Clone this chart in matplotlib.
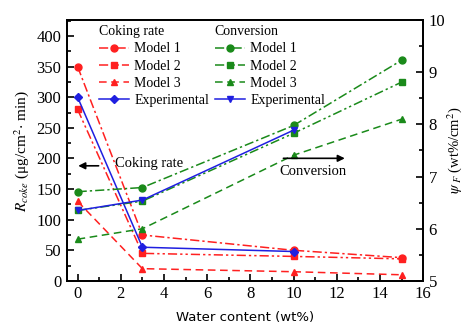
import matplotlib.pyplot as plt

plt.rcParams['font.family'] = 'Liberation Serif'
plt.rcParams['mathtext.fontset'] = 'stix'

water = [0, 3, 10, 15]
water_exp = [0, 3, 10]

# coking rate (left axis)
coke_m1 = [350, 75, 50, 38]
coke_m2 = [280, 45, 40, 36]
coke_m3 = [130, 20, 15, 10]
coke_exp = [300, 55, 48]

# conversion (right axis)
conv_m1 = [6.71, 6.79, 7.98, 9.23]
conv_m2 = [6.35, 6.53, 7.83, 8.81]
conv_m3 = [5.80, 6.00, 7.41, 8.10]
conv_exp = [6.35, 6.55, 7.89]

dashdot = (0, (6, 2, 1.5, 2))
dashdotdot = (0, (6, 2, 1.5, 2, 1.5, 2))
dashed = (0, (5, 3))

fig = plt.figure(figsize=(4.64, 3.24), dpi=100)
ax = fig.add_axes([0.144, 0.133, 0.768, 0.805])
ax2 = ax.twinx()

red = '#ff2020'
green = '#1a8a1a'
blue = '#1f1fe0'
ms = 5

h1 = ax.plot(water, coke_m1, color=red, ls=dashdot, marker='o', ms=ms, lw=1.1)[0]
h2 = ax.plot(water, coke_m2, color=red, ls=dashdotdot, marker='s', ms=ms, lw=1.1)[0]
h3 = ax.plot(water, coke_m3, color=red, ls=dashed, marker='^', ms=ms, lw=1.1)[0]
h4 = ax.plot(water_exp, coke_exp, color=blue, ls='-', marker='D', ms=4.5, lw=1.1)[0]

g1 = ax2.plot(water, conv_m1, color=green, ls=dashdot, marker='o', ms=ms, lw=1.1)[0]
g2 = ax2.plot(water, conv_m2, color=green, ls=dashdotdot, marker='s', ms=ms, lw=1.1)[0]
g3 = ax2.plot(water, conv_m3, color=green, ls=dashed, marker='^', ms=ms, lw=1.1)[0]
g4 = ax2.plot(water_exp, conv_exp, color=blue, ls='-', marker='v', ms=ms, lw=1.1)[0]

ax.set_xlim(-0.5, 16)
ax.set_ylim(0, 426)
ax2.set_ylim(5, 10)
ax.set_xticks(range(0, 17, 2))
ax.set_xticks(range(0, 17, 1), minor=True)
ax.set_yticks(range(0, 401, 50))
ax.set_yticks(range(0, 426, 25), minor=True)
ax2.set_yticks(range(5, 11))
ax2.set_yticks([5 + 0.5 * i for i in range(11)], minor=True)

for a in (ax, ax2):
    a.tick_params(which='both', direction='in', labelsize=12, width=1.2)
    a.tick_params(which='major', length=5, pad=4)
    a.tick_params(which='minor', length=3)
    for s in a.spines.values():
        s.set_linewidth(1.3)

ax.set_xlabel('Water content (wt%)', family='DejaVu Sans', fontsize=9.5, labelpad=6)
ax.set_ylabel(r'$R_{coke}$ (μg/cm$^2$$\cdot$ min)', fontsize=11, labelpad=4)
ax2.set_ylabel(r'$\psi_{\ F}$ (wt%/cm$^2$)', fontsize=10.5, labelpad=0)

labels = ['Model 1', 'Model 2', 'Model 3', 'Experimental']
leg_kw = dict(loc='upper left', frameon=False, fontsize=10, title_fontsize=10,
              handlelength=2.2, handletextpad=0.35, labelspacing=0.3,
              borderaxespad=0, borderpad=0)
leg1 = ax2.legend([h1, h2, h3, h4], labels, title='Coking rate',
                  bbox_to_anchor=(0.09, 0.98), **leg_kw)
leg1._legend_box.align = 'left'
ax2.add_artist(leg1)
leg2 = ax2.legend([g1, g2, g3, g4], labels, title='Conversion',
                  bbox_to_anchor=(0.415, 0.98), **leg_kw)
leg2._legend_box.align = 'left'

ax.annotate('', xy=(-0.1, 188), xytext=(1.1, 188),
            arrowprops=dict(arrowstyle='-|>', color='black', lw=1.2))
ax.text(1.75, 192, 'Coking rate', fontsize=10.5, va='center')
ax2.annotate('', xy=(12.5, 7.35), xytext=(9.4, 7.35),
             arrowprops=dict(arrowstyle='-|>', color='black', lw=1.2))
ax2.text(10.9, 7.1, 'Conversion', fontsize=10.5, ha='center', va='center')

fig.savefig('out.png', dpi=100)
